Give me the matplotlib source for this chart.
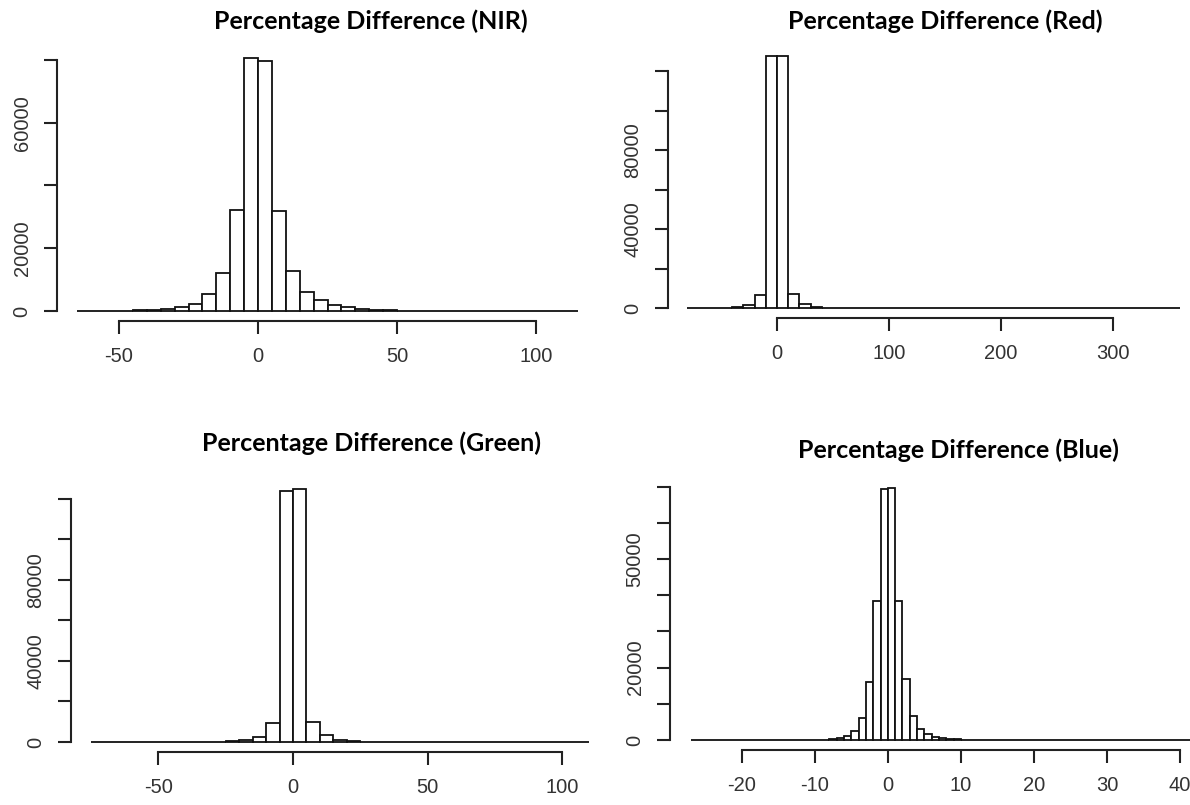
import numpy as np
import matplotlib.pyplot as plt

# histogram counts (bin start, bin width, counts)
nir_start, nir_width = -65, 5
nir_counts = [4, 10, 25, 60, 150, 400, 740, 1270, 2360, 5550, 12100, 32300, 80700,
              79600, 32000, 12650, 6050, 3400, 1800, 1270, 600, 300, 150, 100, 70,
              50, 35, 25, 20, 15, 10, 8, 6, 4, 3, 2]
nir_xticks = [-50, 0, 50, 100]
nir_yticks = [0, 20000, 40000, 60000, 80000]
nir_ylabels = ['0', '20000', '', '60000', '']

red_start, red_width = -80, 10
red_counts = [3, 10, 30, 150, 500, 1500, 6800, 127800,
              127600, 7000, 2000, 700, 250, 100, 50, 30, 20, 15, 10, 8, 6, 5, 4, 3,
              3, 2, 2, 2, 1, 1, 1, 1, 1, 1, 1, 0, 1, 0, 0, 1, 0, 0, 0, 1]
red_xticks = [0, 100, 200, 300]
red_yticks = [0, 20000, 40000, 60000, 80000, 100000, 120000]
red_ylabels = ['0', '', '40000', '', '80000', '', '']

green_start, green_width = -75, 5
green_counts = [1, 2, 3, 5, 8, 12, 20, 35, 70, 150, 350, 1150, 2470, 9370, 123750,
                124570, 9860, 3300, 830, 300, 120, 60, 35, 20, 12, 8, 6, 4, 3, 2, 2,
                1, 1, 1, 1, 0, 1]
green_xticks = [-50, 0, 50, 100]
green_yticks = [0, 20000, 40000, 60000, 80000, 100000, 120000]
green_ylabels = ['0', '', '40000', '', '80000', '', '']

blue_start, blue_width = -27, 1
blue_counts = [1, 1, 2, 2, 3, 3, 4, 5, 6, 8, 10, 13, 17, 22, 30, 40, 55, 80, 130,
               300, 640, 1200, 2580, 5980, 16010, 38360, 69460,
               69730, 38360, 16840, 6620, 2940, 1560, 920, 500, 280, 170, 110, 75,
               55, 40, 30, 22, 17, 13, 10, 8, 7, 6, 5, 4, 4, 3, 3, 2, 2, 2, 2, 1,
               1, 1, 1, 1, 1, 1, 0, 1, 0, 1]
blue_xticks = [-20, -10, 0, 10, 20, 30, 40]
blue_yticks = [0, 10000, 20000, 30000, 40000, 50000, 60000, 70000]
blue_ylabels = ['0', '', '20000', '', '', '50000', '', '']

titles = ['Percentage Difference (NIR)', 'Percentage Difference (Red)',
          'Percentage Difference (Green)', 'Percentage Difference (Blue)']

W, H = 1190, 805
# plot regions in pixels: left, top, right, bottom
boxes = [(57.3, 47.6, 597.7, 321.1), (667.7, 45.9, 1199.9, 318.1),
         (71.1, 479.3, 609.2, 752.1), (670.4, 477.5, 1214.8, 750.1)]
# title centre x and baseline y, pixels
title_pos = [(371, 29), (945, 29), (372, 451), (958, 458)]

fig = plt.figure(figsize=(W / 100, H / 100), dpi=100)
fig.patch.set_facecolor('white')

panels = [
    (nir_start, nir_width, nir_counts, nir_xticks, nir_yticks, nir_ylabels),
    (red_start, red_width, red_counts, red_xticks, red_yticks, red_ylabels),
    (green_start, green_width, green_counts, green_xticks, green_yticks, green_ylabels),
    (blue_start, blue_width, blue_counts, blue_xticks, blue_yticks, blue_ylabels),
]

for i, (start, width, counts, xt, yt, yl) in enumerate(panels):
    l, t, r, b = boxes[i]
    ax = fig.add_axes([l / W, 1 - b / H, (r - l) / W, (b - t) / H])
    lefts = start + width * np.arange(len(counts))
    ax.bar(lefts, counts, width=width, align='edge', facecolor='white',
           edgecolor='#111111', linewidth=1.3)
    # R style limits: data range padded by 4%
    x0, x1 = lefts[0], lefts[-1] + width
    dx = (x1 - x0) * 0.04
    ax.set_xlim(x0 - dx, x1 + dx)
    ymax = max(counts)
    ax.set_ylim(-ymax * 0.04, ymax * 1.04)

    for s in ['top', 'right']:
        ax.spines[s].set_visible(False)
    for s in ['left', 'bottom']:
        ax.spines[s].set_linewidth(1.5)
        ax.spines[s].set_color('#222222')
    ax.spines['left'].set_bounds(yt[0], yt[-1])
    ax.spines['bottom'].set_bounds(xt[0], xt[-1])
    ax.set_xticks(xt)
    ax.set_xticklabels([str(v) for v in xt])
    ax.set_yticks(yt)
    ax.set_yticklabels(yl, rotation=90, va='center')
    ax.tick_params(direction='out', length=9.5, width=1.5, pad=9,
                   labelsize=14.5, color='#222222', labelcolor='#333333')
    for lab in ax.get_xticklabels() + ax.get_yticklabels():
        lab.set_fontfamily('Liberation Sans')

    tx, ty = title_pos[i]
    fig.text(tx / W, 1 - ty / H, titles[i], ha='center', va='baseline',
             fontfamily='Lato', fontweight='bold', fontsize=18)

fig.savefig('out.png', dpi=100)
